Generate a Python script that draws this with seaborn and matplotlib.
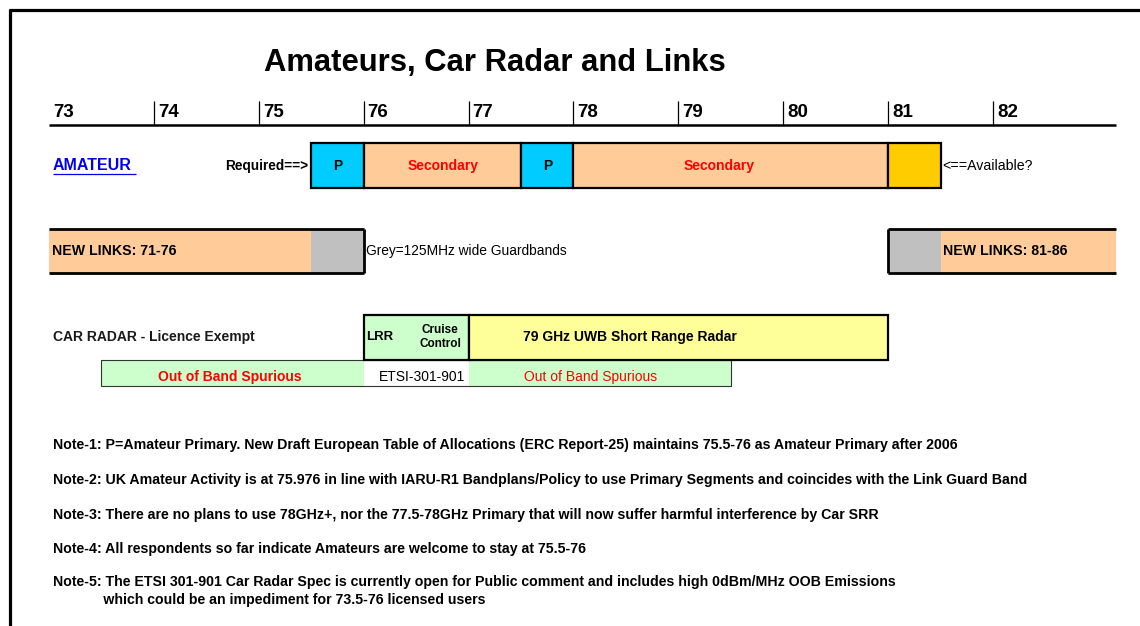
import numpy as np
import matplotlib
matplotlib.use("Agg")
import matplotlib.pyplot as plt
import seaborn as sns
from matplotlib.lines import Line2D

# frequency scale (GHz)
TICKS = [73, 74, 75, 76, 77, 78, 79, 80, 81, 82]
AXIS_END = 83.17

# amateur allocation row
AMATEUR_START = [75.5, 76.0, 77.5, 78.0, 81.0]
AMATEUR_END = [76.0, 77.5, 78.0, 81.0, 81.5]
AMATEUR_KIND = ["primary", "secondary", "primary", "secondary", "available"]
AMATEUR_LABEL = ["P", "Secondary", "P", "Secondary", ""]
AMATEUR_LABEL_X = [75.75, 76.76, 77.75, 79.39, 81.25]

# new links row
LINKS_START = [73.0, 75.5, 81.0, 81.5]
LINKS_END = [75.5, 76.0, 81.5, 83.17]
LINKS_KIND = ["link", "guard", "guard", "link"]

# car radar row
RADAR_START = [76.0, 77.0]
RADAR_END = [77.0, 81.0]
RADAR_KIND = ["lrr", "srr"]

# out of band spurious row
SPUR_START = [73.5, 76.0, 77.0]
SPUR_END = [76.0, 77.0, 79.5]
SPUR_KIND = ["spur", "etsi", "spur"]

NOTES = [
    "Note-1: P=Amateur Primary. New Draft European Table of Allocations (ERC Report-25) maintains 75.5-76 as Amateur Primary after 2006",
    "Note-2: UK Amateur Activity is at 75.976 in line with IARU-R1 Bandplans/Policy to use Primary Segments and coincides with the Link Guard Band",
    "Note-3: There are no plans to use 78GHz+, nor the 77.5-78GHz Primary that will now suffer harmful interference by Car SRR",
    "Note-4: All respondents so far indicate Amateurs are welcome to stay at 75.5-76",
    "Note-5: The ETSI 301-901 Car Radar Spec is currently open for Public comment and includes high 0dBm/MHz OOB Emissions\n             which could be an impediment for 73.5-76 licensed users",
]

COLORS = {
    "primary": "#00CCFF",
    "secondary": "#FFCC99",
    "available": "#FFCC00",
    "link": "#FFCC99",
    "guard": "#C0C0C0",
    "lrr": "#CCFFCC",
    "srr": "#FFFF99",
    "spur": "#CCFFCC",
    "etsi": "#FFFFFF",
}

X0_PX = 49.0
PX_PER_GHZ = 104.9


def gx(px):
    # pixel column -> GHz on the drawing scale
    return 73 + (px - X0_PX) / PX_PER_GHZ


sns.set_theme(style="white")
plt.rcParams["font.family"] = ["Liberation Sans", "DejaVu Sans"]
plt.rcParams["text.color"] = "black"

fig = plt.figure(figsize=(11.4, 6.26), dpi=100)
ax = fig.add_axes([0, 0, 1, 1])
ax.set_xlim(gx(0), gx(1140))
ax.set_ylim(626, 0)
ax.axis("off")

# outer frame (left and top only)
fig.add_artist(Line2D([9.5, 9.5], [0, 617.5], transform=None, color="black", lw=2.3,
                      solid_capstyle="butt"))
fig.add_artist(Line2D([8.5, 1140], [616.5, 616.5], transform=None, color="black", lw=2.3,
                      solid_capstyle="butt"))

ax.text(gx(495), 63, "Amateurs, Car Radar and Links", ha="center", va="center",
        fontsize=22.3, fontweight="bold")

# frequency scale
ax.hlines(125, TICKS[0], AXIS_END, color="black", lw=1.8)
ax.vlines(TICKS[1:], 101, 125, color="black", lw=0.9)
for t in TICKS:
    ax.text(t + 4 / PX_PER_GHZ, 112.5, str(t), ha="left", va="center",
            fontsize=13.5, fontweight="bold")

# amateur row
ax.barh(165.5, np.subtract(AMATEUR_END, AMATEUR_START), left=AMATEUR_START, height=45,
        color=[COLORS[k] for k in AMATEUR_KIND], edgecolor="black", linewidth=1.6)
for x, lab in zip(AMATEUR_LABEL_X, AMATEUR_LABEL):
    ax.text(x, 166, lab, ha="center", va="center", fontsize=10, fontweight="bold",
            color="black" if lab == "P" else "#FF0000")
ax.text(gx(53), 166, "AMATEUR", ha="left", va="center", fontsize=11.5,
        fontweight="bold", color="#0000EE")
ax.hlines(174, gx(53), gx(136), color="#0000EE", lw=0.9)
ax.text(gx(308), 166, "Required==>", ha="right", va="center", fontsize=9.8, fontweight="bold")
ax.text(gx(942), 166, "<==Available?", ha="left", va="center", fontsize=10.2)

# links row
ax.barh(251, np.subtract(LINKS_END, LINKS_START), left=LINKS_START, height=44,
        color=[COLORS[k] for k in LINKS_KIND], linewidth=0)
ax.hlines([229, 273], LINKS_START[0], LINKS_END[1], color="black", lw=2)
ax.hlines([229, 273], LINKS_START[2], AXIS_END, color="black", lw=2)
ax.vlines([LINKS_END[1], LINKS_START[2]], 229, 273, color="black", lw=2)
ax.text(gx(52), 251, "NEW LINKS: 71-76", ha="left", va="center", fontsize=10.2, fontweight="bold")
ax.text(gx(943), 251, "NEW LINKS: 81-86", ha="left", va="center", fontsize=10.2, fontweight="bold")
ax.text(gx(366), 251, "Grey=125MHz wide Guardbands", ha="left", va="center", fontsize=9.9)

# car radar rows
ax.barh(373, np.subtract(SPUR_END, SPUR_START), left=SPUR_START, height=26,
        color=[COLORS[k] for k in SPUR_KIND], linewidth=0)
ax.barh(373, SPUR_END[-1] - SPUR_START[0], left=SPUR_START[0], height=26,
        fill=False, edgecolor="#333333", linewidth=0.8)
ax.barh(337.5, np.subtract(RADAR_END, RADAR_START), left=RADAR_START, height=45,
        color=[COLORS[k] for k in RADAR_KIND], edgecolor="black", linewidth=1.6)
ax.text(gx(53), 337, "CAR RADAR - Licence Exempt", ha="left", va="center",
        fontsize=10, fontweight="bold", color="#1a1a1a")
ax.text(gx(366), 337, "LRR", ha="left", va="center", fontsize=9.5, fontweight="bold")
ax.text(gx(440), 337, "Cruise\nControl", ha="center", va="center", fontsize=8.5,
        fontweight="bold", linespacing=1.3)
ax.text(gx(523), 337, "79 GHz UWB Short Range Radar", ha="left", va="center",
        fontsize=10, fontweight="bold")
ax.text(gx(230), 377, "Out of Band Spurious", ha="center", va="center", fontsize=10,
        fontweight="bold", color="#FF0000")
ax.text(gx(465), 377, "ETSI-301-901", ha="right", va="center", fontsize=10)
ax.text(gx(524), 377, "Out of Band Spurious", ha="left", va="center", fontsize=10,
        color="#FF0000")

# notes
for y, note in zip([445, 480, 515, 549, 591], NOTES):
    ax.text(gx(53), y, note, ha="left", va="center", fontsize=10.15, fontweight="bold",
            linespacing=1.45)

fig.savefig("out.png", dpi=100)
